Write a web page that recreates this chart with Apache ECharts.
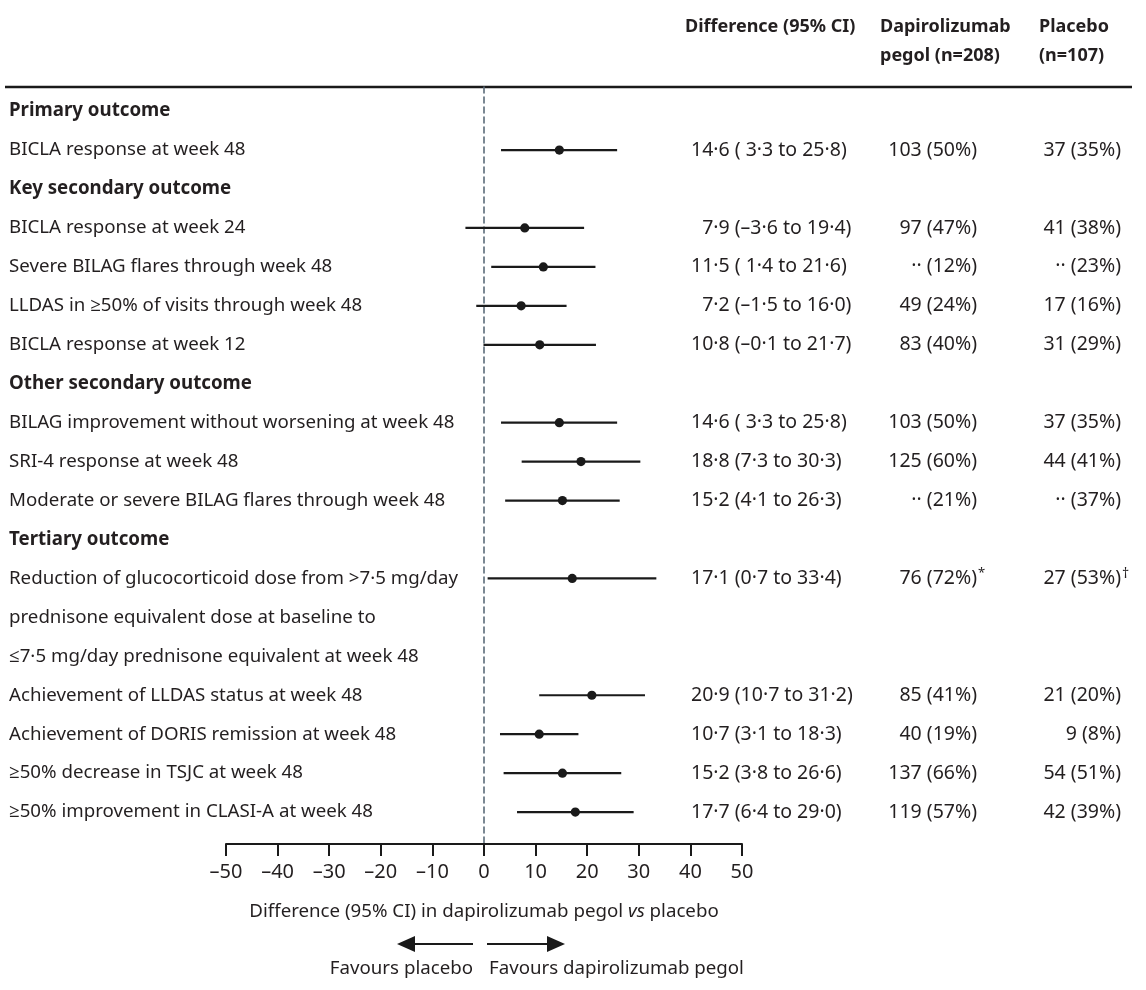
<!DOCTYPE html>
<html>
<head>
<meta charset="utf-8">
<script src="https://cdn.jsdelivr.net/npm/echarts@6/dist/echarts.min.js"></script>
<style>
html, body { margin: 0; padding: 0; background: #fff; }
#chart { width: 1146px; height: 990px; }
</style>
</head>
<body>
<div id="chart"></div>
<script>
// rows of the table, top to bottom
var rowLabels = [
    'Primary outcome',
    'BICLA response at week 48',
    'Key secondary outcome',
    'BICLA response at week 24',
    'Severe BILAG flares through week 48',
    'LLDAS in ≥50% of visits through week 48',
    'BICLA response at week 12',
    'Other secondary outcome',
    'BILAG improvement without worsening at week 48',
    'SRI-4 response at week 48',
    'Moderate or severe BILAG flares through week 48',
    'Tertiary outcome',
    'Reduction of glucocorticoid dose from >7·5 mg/day',
    'prednisone equivalent dose at baseline to',
    '≤7·5 mg/day prednisone equivalent at week 48',
    'Achievement of LLDAS status at week 48',
    'Achievement of DORIS remission at week 48',
    '≥50% decrease in TSJC at week 48',
    '≥50% improvement in CLASI-A at week 48'
];
var headerRows = [0, 2, 7, 11];

// difference and 95% CI
var estimate = [null, 14.6, null, 7.9, 11.5, 7.2, 10.8, null, 14.6, 18.8, 15.2, null, 17.1, null, null, 20.9, 10.7, 15.2, 17.7];
var lower    = [null, 3.3,  null, -3.6, 1.4, -1.5, -0.1, null, 3.3,  7.3,  4.1,  null, 0.7,  null, null, 10.7, 3.1,  3.8,  6.4];
var upper    = [null, 25.8, null, 19.4, 21.6, 16.0, 21.7, null, 25.8, 30.3, 26.3, null, 33.4, null, null, 31.2, 18.3, 26.6, 29.0];

var diffLabels = ['', '14·6 ( 3·3 to 25·8)', '', '\u20077·9 (–3·6 to 19·4)', '11·5 ( 1·4 to 21·6)', '\u20077·2 (–1·5 to 16·0)', '10·8 (–0·1 to 21·7)',
    '', '14·6 ( 3·3 to 25·8)', '18·8 (7·3 to 30·3)', '15·2 (4·1 to 26·3)', '', '17·1 (0·7 to 33·4)', '', '',
    '20·9 (10·7 to 31·2)', '10·7 (3·1 to 18·3)', '15·2 (3·8 to 26·6)', '17·7 (6·4 to 29·0)'];
var dapLabels = ['', '103 (50%)', '', '97 (47%)', '·· (12%)', '49 (24%)', '83 (40%)',
    '', '103 (50%)', '125 (60%)', '·· (21%)', '', '76 (72%)', '', '',
    '85 (41%)', '40 (19%)', '137 (66%)', '119 (57%)'];
var placeboLabels = ['', '37 (35%)', '', '41 (38%)', '·· (23%)', '17 (16%)', '31 (29%)',
    '', '37 (35%)', '44 (41%)', '·· (37%)', '', '27 (53%)', '', '',
    '21 (20%)', '9 (8%)', '54 (51%)', '42 (39%)'];
var dapNotes = { 12: '*' };
var placeboNotes = { 12: '†' };

var FONT = '"Noto Sans", "Open Sans", sans-serif';
var INK = '#231f20';
var LABEL_SIZE = 18.7;
var NUM_SIZE = 19.5;

var myChart = echarts.init(document.getElementById('chart'));

var ciData = [];
estimate.forEach(function (v, i) {
    if (v !== null) ciData.push([lower[i], upper[i], v, i]);
});
var textData = rowLabels.map(function (t, i) { return [0, i]; });

function renderCI(params, api) {
    var row = api.value(3);
    var a = api.coord([api.value(0), row]);
    var b = api.coord([api.value(1), row]);
    var c = api.coord([api.value(2), row]);
    return {
        type: 'group',
        children: [
            { type: 'line', shape: { x1: a[0], y1: a[1], x2: b[0], y2: b[1] }, style: { stroke: '#1a1a1a', lineWidth: 2.2 } },
            { type: 'circle', shape: { cx: c[0], cy: c[1], r: 4.6 }, style: { fill: '#1a1a1a' } }
        ]
    };
}

function txt(s, x, y, align, size, weight) {
    return {
        type: 'text', x: x, y: y,
        style: {
            text: s, fill: INK, fontFamily: FONT, fontSize: size,
            fontWeight: weight || 'normal',
            align: align, verticalAlign: 'middle'
        }
    };
}

function renderText(params, api) {
    var i = api.value(1);
    var y = api.coord([0, i])[1];
    var isHead = headerRows.indexOf(i) >= 0;
    var kids = [txt(rowLabels[i], 9, y, 'left', LABEL_SIZE, isHead ? 'bold' : 'normal')];
    if (diffLabels[i]) kids.push(txt(diffLabels[i], 691, y, 'left', NUM_SIZE));
    if (dapLabels[i]) kids.push(txt(dapLabels[i], 977, y, 'right', NUM_SIZE));
    if (placeboLabels[i]) kids.push(txt(placeboLabels[i], 1121, y, 'right', NUM_SIZE));
    if (dapNotes[i]) kids.push(txt(dapNotes[i], 978, y - 5, 'left', 13));
    if (placeboNotes[i]) kids.push(txt(placeboNotes[i], 1122, y - 4, 'left', 14));
    return { type: 'group', children: kids };
}

function headText(s, x, y) {
    return {
        type: 'text', x: x, y: y,
        style: { text: s, fill: INK, fontFamily: FONT, fontSize: 18, fontWeight: 'bold', verticalAlign: 'middle' }
    };
}

option = {
    animation: false,
    backgroundColor: '#fff',
    grid: { left: 226, right: 404, top: 87, bottom: 146 },
    xAxis: {
        type: 'value',
        min: -50,
        max: 50,
        interval: 10,
        splitLine: { show: false },
        axisLine: { onZero: false, lineStyle: { color: '#1a1a1a', width: 2 } },
        axisTick: { length: 12, lineStyle: { color: '#1a1a1a', width: 2 } },
        axisLabel: {
            margin: 18, fontSize: 20, color: INK, fontFamily: FONT,
            formatter: function (v) { return v < 0 ? '–' + Math.abs(v) : String(v); }
        },
        name: '{a|Difference (95% CI) in dapirolizumab pegol }{i|vs}{a| placebo}',
        nameLocation: 'middle',
        nameGap: 58,
        nameTextStyle: {
            rich: {
                a: { fontSize: 18.7, color: INK, fontFamily: FONT },
                i: { fontSize: 18.7, color: INK, fontFamily: FONT, fontStyle: 'italic' }
            }
        }
    },
    yAxis: {
        type: 'value',
        inverse: true,
        min: -0.62,
        max: 18.82,
        splitLine: { show: false },
        axisTick: { show: false },
        axisLabel: { show: false },
        axisLine: { show: true, onZero: true, lineStyle: { color: '#5b6b79', width: 1.6, type: [6, 4] } }
    },
    graphic: [
        { type: 'line', shape: { x1: 5, y1: 87, x2: 1132, y2: 87 }, style: { stroke: '#1a1a1a', lineWidth: 2.5 } },
        headText('Difference (95% CI)', 685, 27),
        headText('Dapirolizumab', 880, 27),
        headText('pegol (n=208)', 880, 56),
        headText('Placebo', 1039, 27),
        headText('(n=107)', 1039, 56),
        // favours arrows
        { type: 'line', shape: { x1: 473, y1: 944, x2: 412, y2: 944 }, style: { stroke: '#1a1a1a', lineWidth: 2.2 } },
        { type: 'polygon', shape: { points: [[397, 944], [415, 936], [415, 952]] }, style: { fill: '#1a1a1a' } },
        { type: 'line', shape: { x1: 487, y1: 944, x2: 550, y2: 944 }, style: { stroke: '#1a1a1a', lineWidth: 2.2 } },
        { type: 'polygon', shape: { points: [[565, 944], [547, 936], [547, 952]] }, style: { fill: '#1a1a1a' } },
        { type: 'text', x: 473, y: 969, style: { text: 'Favours placebo', fill: INK, fontFamily: FONT, fontSize: 18.7, align: 'right', verticalAlign: 'middle' } },
        { type: 'text', x: 489, y: 969, style: { text: 'Favours dapirolizumab pegol', fill: INK, fontFamily: FONT, fontSize: 18.7, align: 'left', verticalAlign: 'middle' } }
    ],
    series: [
        {
            name: 'Difference',
            type: 'custom',
            renderItem: renderCI,
            data: ciData,
            encode: { x: [0, 1, 2], y: 3 },
            silent: true
        },
        {
            name: 'Table',
            type: 'custom',
            renderItem: renderText,
            data: textData,
            encode: { x: 0, y: 1 },
            clip: false,
            silent: true
        }
    ]
};

myChart.setOption(option);
</script>
</body>
</html>
